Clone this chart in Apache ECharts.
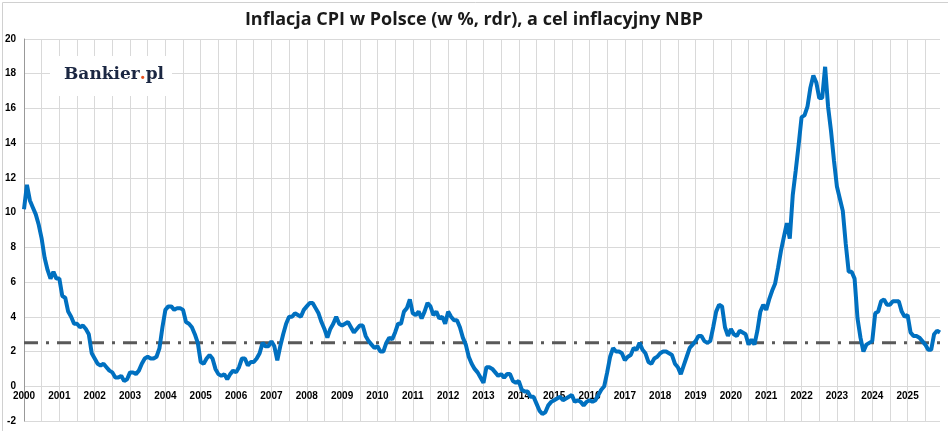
<!DOCTYPE html>
<html><head><meta charset="utf-8">
<script src="https://cdn.jsdelivr.net/npm/echarts@6/dist/echarts.min.js"></script>
<style>html,body{margin:0;padding:0;background:#fff}#c{width:948px;height:431px}</style>
</head><body><div id="c"></div>
<script>
const startYear = 2000;
const cpi = [
10.2,11.6,10.7,10.3,9.9,9.3,8.5,
7.4,6.7,6.2,6.6,6.2,6.2,5.2,5.1,4.3,4.0,3.6,3.6,
3.4,3.5,3.3,3.0,1.9,1.6,1.3,1.2,1.3,1.1,0.9,0.8,
0.5,0.5,0.6,0.3,0.4,0.8,0.8,0.7,0.9,1.3,1.6,1.7,
1.6,1.6,1.7,2.2,3.4,4.4,4.6,4.6,4.4,4.5,4.5,4.4,
3.7,3.6,3.4,3.0,2.5,1.4,1.3,1.6,1.8,1.6,1.0,0.7,
0.6,0.7,0.4,0.7,0.9,0.8,1.1,1.6,1.6,1.2,1.4,1.4,
1.6,1.9,2.5,2.3,2.3,2.6,2.3,1.5,2.3,3.0,3.6,4.0,
4.0,4.2,4.1,4.0,4.4,4.6,4.8,4.8,4.5,4.2,3.7,3.3,
2.8,3.3,3.6,4.0,3.6,3.5,3.6,3.7,3.4,3.1,3.3,3.5,
3.5,2.9,2.6,2.4,2.2,2.3,2.0,2.0,2.5,2.8,2.7,3.1,
3.6,3.6,4.3,4.5,5.0,4.2,4.1,4.3,3.9,4.3,4.8,4.6,
4.1,4.3,3.9,4.0,3.6,4.3,4.0,3.8,3.8,3.4,2.8,2.4,
1.7,1.3,1.0,0.8,0.5,0.2,1.1,1.1,1.0,0.8,0.6,0.7,
0.5,0.7,0.7,0.3,0.2,0.3,-0.2,-0.3,-0.3,-0.6,-0.6,-1.0,
-1.4,-1.6,-1.5,-1.1,-0.9,-0.8,-0.7,-0.6,-0.8,-0.7,-0.6,-0.5,
-0.9,-0.8,-0.9,-1.1,-0.9,-0.8,-0.9,-0.8,-0.5,-0.2,0.0,0.8,
1.7,2.2,2.0,2.0,1.9,1.5,1.7,1.8,2.2,2.1,2.5,2.1,
1.9,1.4,1.3,1.6,1.7,1.9,2.0,2.0,1.9,1.8,1.3,1.1,
0.7,1.2,1.7,2.2,2.4,2.6,2.9,2.9,2.6,2.5,2.6,3.4,
4.3,4.7,4.6,3.4,2.9,3.3,3.0,2.9,3.2,3.1,3.0,2.4,
2.7,2.4,3.2,4.3,4.7,4.4,5.0,5.5,5.9,6.8,7.8,8.6,
9.4,8.5,11.0,12.4,13.9,15.5,15.6,16.1,17.2,17.9,17.5,16.6,
16.6,18.4,16.1,14.7,13.0,11.5,10.8,10.1,8.2,6.6,6.6,6.2,
3.9,2.8,2.0,2.4,2.5,2.6,4.2,4.3,4.9,5.0,4.7,4.7,
4.9,4.9,4.9,4.3,4.0,4.1,3.1,2.9,2.9,2.8,2.6,2.4,
2.1,2.1,3.0,3.2,3.1
];
const target = 2.5;
const cats = cpi.map((_, i) => i);
const chart = echarts.init(document.getElementById('c'));
chart.setOption({
  animation: false,
  title: {text: 'Inflacja CPI w Polsce (w %, rdr), a cel inflacyjny NBP', left: 'center', top: 6,
    textStyle: {fontFamily: 'Open Sans', fontWeight: 'bold', fontSize: 18, color: '#1a1a1a'}},
  grid: {left: 24, right: 8, top: 39, bottom: 10, outerBoundsMode: 'none', containLabel: false},
  xAxis: {type: 'category', data: cats, boundaryGap: false,
    axisLine: {show: false},
    axisTick: {show: false},
    axisLabel: {interval: 11, color: '#000', fontWeight: 'bold', fontSize: 10, fontFamily: 'Arial',
      formatter: v => String(startYear + Math.floor(v / 12)), margin: -30},
    splitLine: {show: true, interval: 5, lineStyle: {color: '#d9d9d9'}}},
  yAxis: {type: 'value', min: -2, max: 20, interval: 2,
    axisLine: {show: true, lineStyle: {color: '#999'}},
    axisLabel: {color: '#000', fontWeight: 'bold', fontSize: 10, fontFamily: 'Arial', margin: 8},
    splitLine: {lineStyle: {color: '#d9d9d9'}}},
  graphic: [
    {type: 'rect', left: 50, top: 56, shape: {width: 122, height: 40}, style: {fill: '#fff'}, z: 10},
    {type: 'text', left: 64, top: 66, z: 11, style: {
      text: '{a|Bankier}{d|.}{a|pl}', rich: {
        a: {fontFamily: 'DejaVu Serif', fontWeight: 'bold', fontSize: 17, fill: '#1b2742'},
        d: {fontFamily: 'DejaVu Serif', fontWeight: 'bold', fontSize: 17, fill: '#e8501c'}}}},
    {type: 'rect', left: 0, top: 0, shape: {width: 947, height: 430}, style: {fill: 'none', stroke: '#d0d0d0'}, z: 0}
  ],
  series: [
    {type: 'line', data: cpi.map(() => target), symbol: 'none', z: 2,
      lineStyle: {color: '#595959', width: 3, type: [14, 8, 3, 8]}},
    {type: 'line', data: cpi, symbol: 'none', z: 3,
      lineStyle: {color: '#0070c0', width: 4}}
  ]
});
</script></body></html>
